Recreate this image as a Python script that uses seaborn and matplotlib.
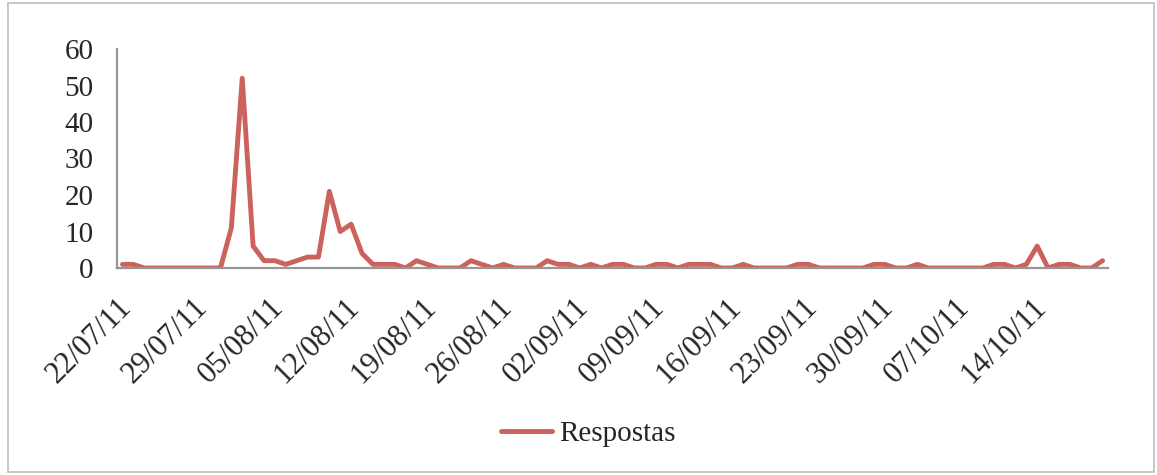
import matplotlib
matplotlib.use("Agg")
import matplotlib.pyplot as plt
import matplotlib.transforms as mtransforms
import seaborn as sns
import pandas as pd
from matplotlib.patches import Rectangle

start_date = "2011-07-22"
respostas = [1, 1, 0, 0, 0, 0, 0, 0, 0, 0, 11, 52, 6, 2, 2, 1, 2, 3, 3, 21,
             10, 12, 4, 1, 1, 1, 0, 2, 1, 0, 0, 0, 2, 1, 0, 1, 0, 0, 0, 2,
             1, 1, 0, 1, 0, 1, 1, 0, 0, 1, 1, 0, 1, 1, 1, 0, 0, 1, 0, 0,
             0, 0, 1, 1, 0, 0, 0, 0, 0, 1, 1, 0, 0, 1, 0, 0, 0, 0, 0, 0,
             1, 1, 0, 1, 6, 0, 1, 1, 0, 0, 2]
tick_labels = ["22/07/11", "29/07/11", "05/08/11", "12/08/11", "19/08/11",
               "26/08/11", "02/09/11", "09/09/11", "16/09/11", "23/09/11",
               "30/09/11", "07/10/11", "14/10/11"]
y_ticks = [0, 10, 20, 30, 40, 50, 60]

dates = pd.date_range(start_date, periods=len(respostas), freq="D")
df = pd.DataFrame({"day": range(len(respostas)), "Respostas": respostas, "date": dates})

sns.set_style("white")
plt.rcParams["font.family"] = ["Liberation Serif", "DejaVu Serif"]

fig = plt.figure(figsize=(11.57, 4.75), dpi=100)
ax = fig.add_axes([117/1157, 1-268/475, (1108-117)/1157, (268-49)/475])

line_color = "#CB625B"
sns.lineplot(data=df, x="day", y="Respostas", ax=ax, color=line_color,
             linewidth=3.5, label="Respostas")

fs = 21
ax.set_xlim(-0.5, len(respostas) - 0.5)
ax.set_ylim(0, 60)
ax.set_yticks(y_ticks)
ax.set_yticklabels([str(v) for v in y_ticks], fontsize=fs)
tick_pos = [dates.get_loc(pd.to_datetime(t, format="%d/%m/%y")) for t in tick_labels]
ax.set_xticks(tick_pos)
ax.set_xticklabels(tick_labels, rotation=45, ha="right", rotation_mode="anchor",
                   fontsize=22)
ax.tick_params(axis="y", length=0, pad=17)
ax.tick_params(axis="x", length=0, pad=18)
shift = mtransforms.ScaledTranslation(-6/100, 0, fig.dpi_scale_trans)
for lab in ax.get_xticklabels():
    lab.set_transform(lab.get_transform() + shift)
ax.set_xlabel("")
ax.set_ylabel("")
for s in ["top", "right"]:
    ax.spines[s].set_visible(False)
for s in ["left", "bottom"]:
    ax.spines[s].set_color("#969696")
    ax.spines[s].set_linewidth(1.6)
ax.grid(False)

ax.legend(loc="center", bbox_to_anchor=(588/1157, 1-434/475),
          bbox_transform=fig.transFigure, frameon=False, fontsize=fs,
          handlelength=1.75, handletextpad=0.25)

fig.patches.append(Rectangle((8/1157, 3/475), (1154-8)/1157, (472-3)/475,
                             transform=fig.transFigure, fill=False,
                             edgecolor="#BFBFBF", linewidth=1.2))

fig.savefig("out.png", dpi=100)
